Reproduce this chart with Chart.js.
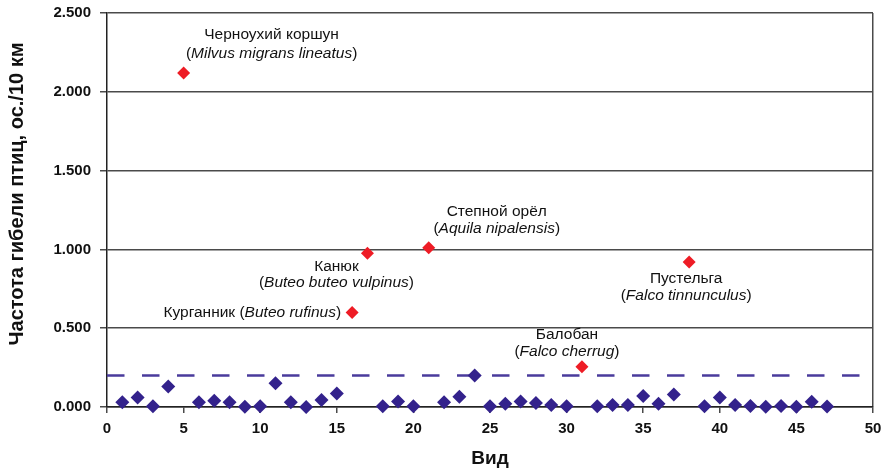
<!DOCTYPE html>
<html>
<head>
<meta charset="utf-8">
<script src="https://cdn.jsdelivr.net/npm/chart.js@4"></script>
<style>
  html, body { margin: 0; padding: 0; background: #ffffff; }
  #wrap { width: 887px; height: 470px; }
</style>
</head>
<body>
<div id="wrap"><canvas id="c" width="887" height="470"></canvas></div>
<script>
// ---- data ----
const otherSpeciesX = [1,2,3,4,6,7,8,9,10,11,12,13,14,15,18,19,20,22,23,24,25,26,27,28,29,30,32,33,34,35,36,37,39,40,41,42,43,44,45,46,47];
const otherSpeciesY = [0.03,0.06,0.005,0.13,0.03,0.04,0.03,0.002,0.005,0.15,0.03,0.0,0.045,0.085,0.005,0.035,0.005,0.03,0.065,0.2,0.005,0.02,0.035,0.025,0.012,0.005,0.005,0.012,0.012,0.07,0.02,0.08,0.004,0.06,0.012,0.006,0.002,0.006,0.002,0.033,0.003];
const raptorX = [5, 16, 17, 21, 31, 38];
const raptorY = [2.12, 0.6, 0.975, 1.01, 0.255, 0.92];
const raptorNames = ['Черноухий коршун', 'Курганник', 'Канюк', 'Степной орёл', 'Балобан', 'Пустельга'];
const raptorLatin = ['Milvus migrans lineatus', 'Buteo rufinus', 'Buteo buteo vulpinus', 'Aquila nipalensis', 'Falco cherrug', 'Falco tinnunculus'];
const thresholdX = [0, 50];
const thresholdY = [0.2, 0.2];
const xTicks = [0, 5, 10, 15, 20, 25, 30, 35, 40, 45, 50];
const yTicks = [0, 0.5, 1.0, 1.5, 2.0, 2.5];
const xTitle = 'Вид';
const yTitle = 'Частота гибели птиц, ос./10 км';

// ---- styles / layout (not data) ----
const FONT = '"Liberation Sans", Arial, Helvetica, sans-serif';
const BLUE = '#33228c';
const RED = '#ee1c25';
const GRID = '#4a4a4a';

// label placement relative to each raptor point (pixels)
const labelLayout = [
  { mode: 'two', dx: 88, dy1: -38, dy2: -19 },
  { mode: 'one', dx: -11, dy: 0 },
  { mode: 'two', dx: -31, dy1: 13, dy2: 29 },
  { mode: 'two', dx: 68, dy1: -36, dy2: -19 },
  { mode: 'two', dx: -15, dy1: -32, dy2: -15 },
  { mode: 'two', dx: -3, dy1: 17, dy2: 34 }
];

const toPts = (xs, ys) => xs.map((x, i) => ({ x: x, y: ys[i] }));

const labelPlugin = {
  id: 'raptorLabels',
  afterDatasetsDraw(chart) {
    const ctx = chart.ctx;
    const xs = chart.scales.x, ys = chart.scales.y;
    const size = 15.5;
    const normal = `normal ${size}px ${FONT}`;
    const italic = `italic ${size}px ${FONT}`;
    ctx.save();
    ctx.fillStyle = '#111';
    ctx.textBaseline = 'middle';
    ctx.textAlign = 'left';
    const drawSegs = (segs, startX, y) => {
      let x = startX;
      segs.forEach(s => { ctx.font = s[1]; ctx.fillText(s[0], x, y); x += ctx.measureText(s[0]).width; });
    };
    const widthSegs = segs => segs.reduce((w, s) => { ctx.font = s[1]; return w + ctx.measureText(s[0]).width; }, 0);
    raptorX.forEach((xv, i) => {
      const px = xs.getPixelForValue(xv);
      const py = ys.getPixelForValue(raptorY[i]);
      const L = labelLayout[i];
      if (L.mode === 'one') {
        const segs = [[raptorNames[i] + ' (', normal], [raptorLatin[i], italic], [')', normal]];
        const w = widthSegs(segs);
        drawSegs(segs, px + L.dx - w, py + L.dy);
      } else {
        const cx = px + L.dx;
        const s1 = [[raptorNames[i], normal]];
        const s2 = [['(', normal], [raptorLatin[i], italic], [')', normal]];
        drawSegs(s1, cx - widthSegs(s1) / 2, py + L.dy1);
        drawSegs(s2, cx - widthSegs(s2) / 2, py + L.dy2);
      }
    });
    ctx.restore();
  }
};

const yTitlePlugin = {
  id: 'yTitle',
  afterDraw(chart) {
    const ctx = chart.ctx;
    const a = chart.chartArea;
    ctx.save();
    ctx.translate(17, (a.top + a.bottom) / 2 - 16);
    ctx.rotate(-Math.PI / 2);
    ctx.font = `bold 20px ${FONT}`;
    ctx.fillStyle = '#111';
    ctx.textAlign = 'center';
    ctx.textBaseline = 'middle';
    ctx.fillText(yTitle, 0, 0);
    ctx.restore();
  }
};

new Chart(document.getElementById('c'), {
  type: 'scatter',
  data: {
    datasets: [
      {
        data: toPts(raptorX, raptorY),
        pointStyle: 'rectRot', pointRadius: 6.5, pointHoverRadius: 6.5,
        backgroundColor: RED, borderColor: RED, borderWidth: 0, clip: false
      },
      {
        data: toPts(otherSpeciesX, otherSpeciesY),
        pointStyle: 'rectRot', pointRadius: 7, pointHoverRadius: 7,
        backgroundColor: BLUE, borderColor: BLUE, borderWidth: 0, clip: false
      },
      {
        data: toPts(thresholdX, thresholdY),
        showLine: true, pointRadius: 0, borderColor: '#4a3b9c', borderWidth: 2.5,
        borderDash: [17.5, 17.5], fill: false
      }
    ]
  },
  options: {
    responsive: false,
    animation: false,
    events: [],
    layout: { padding: { left: 0, right: 14, top: 13, bottom: 0 } },
    plugins: { legend: { display: false }, tooltip: { enabled: false } },
    scales: {
      x: {
        type: 'linear', min: 0, max: 50,
        afterBuildTicks: s => { s.ticks = xTicks.map(v => ({ value: v })); },
        afterFit: s => { s.height = 63; s.paddingLeft = 0; s.paddingRight = 0; },
        ticks: { font: { family: FONT, size: 15, weight: 'bold' }, color: '#111', padding: 7, maxRotation: 0 },
        grid: {
          color: c => (c.tick && c.tick.value === 50) ? GRID : 'rgba(0,0,0,0)',
          lineWidth: 1.5, tickLength: 6, tickColor: GRID, drawTicks: true
        },
        border: { display: true, color: '#222', width: 1.5 },
        title: { display: true, text: xTitle, font: { family: FONT, size: 19, weight: 'bold' }, color: '#111', padding: { top: 0, bottom: 0 } }
      },
      y: {
        type: 'linear', min: 0, max: 2.5,
        afterBuildTicks: s => { s.ticks = yTicks.map(v => ({ value: v })); },
        afterFit: s => { s.width = 107; s.paddingTop = 0; s.paddingBottom = 0; },
        ticks: { font: { family: FONT, size: 15, weight: 'bold' }, color: '#111', padding: 9, callback: v => Number(v).toFixed(3) },
        grid: { color: GRID, lineWidth: 1.5, tickLength: 7, tickColor: GRID },
        border: { display: true, color: '#222', width: 1.5 }
      }
    }
  },
  plugins: [labelPlugin, yTitlePlugin]
});
</script>
</body>
</html>
